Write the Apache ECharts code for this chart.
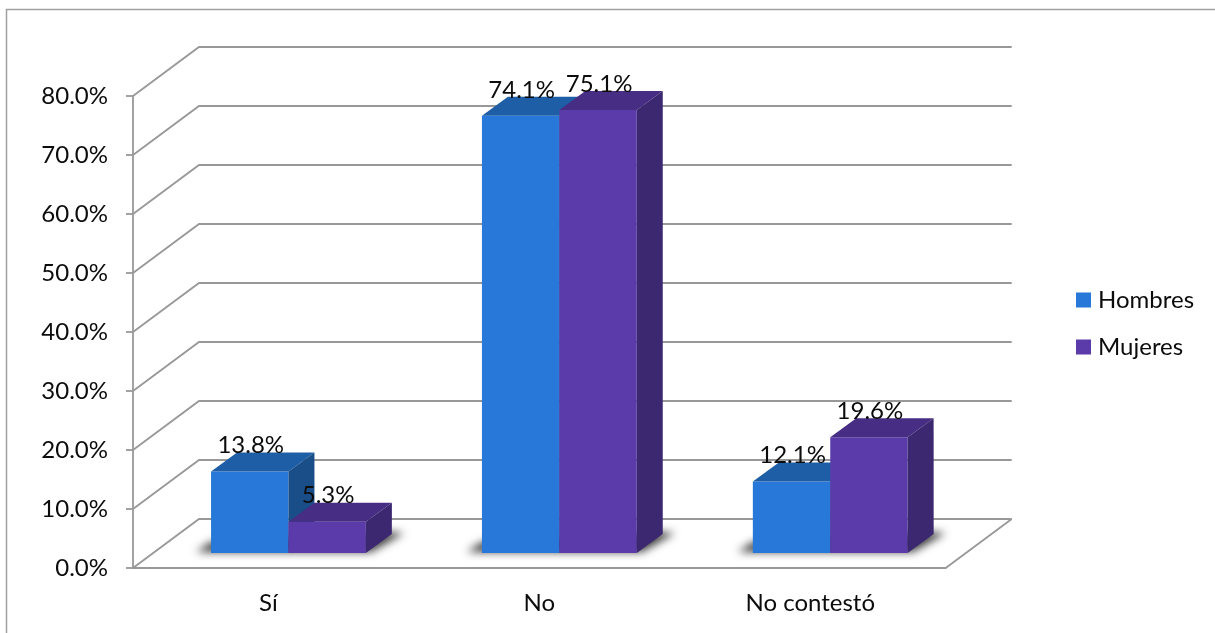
<!DOCTYPE html>
<html>
<head>
<meta charset="utf-8">
<style>html,body{margin:0;padding:0;background:#fff}#c{width:1215px;height:633px}</style>
<script src="https://cdn.jsdelivr.net/npm/echarts@6/dist/echarts.min.js"></script>
</head>
<body>
<div id="c"></div>
<script>
const categories = ['Sí', 'No', 'No contestó'];
const hombres = [13.8, 74.1, 12.1];
const mujeres = [5.3, 75.1, 19.6];
const yTicks = [0, 10, 20, 30, 40, 50, 60, 70, 80];

const FONT = 'Lato';
const FS = 24;
const INK = '#0c0c0c';
const GRID = '#989898';
const GW = 1.8;
const WALL = [66, -49];   // depth of the box
const SHIFT = [20, -15];  // bar position inside the depth
const DEPTH = [26, -19];  // depth of each bar
const BLUE = { front: '#2778d8', top: '#1d5ea6', side: '#1a4e88' };
const PURPLE = { front: '#5a3ba9', top: '#472d84', side: '#3b2870' };
const OFF = 3000;

function poly(pts, fill, extra) {
  return { type: 'polygon', shape: { points: pts }, style: Object.assign({ fill: fill, stroke: null }, extra || {}) };
}
function wallItem(params, api) {
  const v = api.value(0);
  const cs = params.coordSys;
  const p = api.coord([0, v]);
  const x0 = cs.x, x1 = cs.x + cs.width, y = p[1];
  const lineStyle = { stroke: GRID, lineWidth: GW, fill: null };
  const children = [{
    type: 'polyline',
    shape: { points: [[x0, y], [x0 + WALL[0], y + WALL[1]], [x1 + WALL[0], y + WALL[1]]] },
    style: lineStyle
  }];
  if (v === 0) {
    children.push({
      type: 'polyline',
      shape: { points: [[x1, y], [x1 + WALL[0], y + WALL[1]]] },
      style: lineStyle
    });
  }
  return { type: 'group', children: children };
}
function barItem(colors, idx) {
  return function (params, api) {
    const cat = api.value(0), val = api.value(1);
    const band = api.size([1, 0])[0];
    const w = band / 3.5;
    const base = api.coord([cat, 0]);
    const top = api.coord([cat, val]);
    const xl = base[0] + SHIFT[0] - w + idx * w;
    const xr = xl + w;
    const yb = base[1] + SHIFT[1];
    const yt = top[1] + SHIFT[1];
    const dx = DEPTH[0], dy = DEPTH[1];
    const children = [];
    if (idx === 0) {
      // soft floor shadow: only the blurred shadow lands on the canvas
      const l = xl, r = xl + 2 * w;
      children.push(poly(
        [[l - 15 - OFF, yb - 1], [l - OFF, yb - 11], [r + 24 - OFF, yb - 21], [r + 38 - OFF, yb - 20], [r + 5 - OFF, yb - 1]],
        '#000', { shadowBlur: 8, shadowOffsetX: OFF, shadowColor: 'rgba(60,60,60,1)' }));
    }
    children.push(poly([[xl, yt], [xr, yt], [xr, yb], [xl, yb]], colors.front));
    children.push(poly([[xl, yt], [xr, yt], [xr + dx, yt + dy], [xl + dx, yt + dy]], colors.top));
    children.push(poly([[xr, yt], [xr + dx, yt + dy], [xr + dx, yb + dy], [xr, yb]], colors.side));
    children.push({
      type: 'text', z2: 100,
      style: {
        x: xl + w / 2 + 1, y: yt - 26, text: val.toFixed(1) + '%',
        fill: INK, font: FS + 'px ' + FONT, align: 'center', verticalAlign: 'middle'
      }
    });
    return { type: 'group', children: children };
  };
}

const chart = echarts.init(document.getElementById('c'), null, { renderer: 'canvas' });
chart.setOption({
  animation: false,
  backgroundColor: '#fff',
  graphic: [{
    type: 'polyline', silent: true, z: -10,
    shape: { points: [[6.5, 640], [6.5, 9.5], [1220, 9.5]] },
    style: { stroke: '#a0a0a0', lineWidth: 1.5, fill: null }
  }],
  grid: { left: 133, top: 96, width: 812.7, height: 472, containLabel: false },
  legend: {
    orient: 'vertical', left: 1071, top: 283, itemWidth: 15, itemHeight: 15, itemGap: 23,
    icon: 'rect',
    data: ['Hombres', 'Mujeres'],
    textStyle: { fontFamily: FONT, fontSize: FS, color: INK, padding: [0, 0, 0, 2] }
  },
  xAxis: {
    type: 'category', data: categories,
    axisLine: { show: true, lineStyle: { color: GRID, width: GW } },
    axisTick: { show: false },
    axisLabel: { margin: 23, fontFamily: FONT, fontSize: FS, color: INK },
    splitLine: { show: false }
  },
  yAxis: {
    type: 'value', min: 0, max: 80, interval: 10,
    axisLine: { show: true, lineStyle: { color: GRID, width: GW } },
    axisTick: { show: true, length: 7, lineStyle: { color: GRID, width: GW } },
    axisLabel: { margin: 25, fontFamily: FONT, fontSize: FS, color: INK, formatter: v => v.toFixed(1) + '%' },
    splitLine: { show: false }
  },
  series: [
    { type: 'custom', name: 'walls', z: 1, silent: true, clip: false, renderItem: wallItem,
      data: yTicks.map(v => [v]), encode: { y: 0 } },
    { type: 'custom', name: 'Hombres', z: 2, clip: false, itemStyle: { color: BLUE.front },
      renderItem: barItem(BLUE, 0), encode: { x: 0, y: 1 },
      data: categories.map((c, i) => [i, hombres[i]]) },
    { type: 'custom', name: 'Mujeres', z: 2, clip: false, itemStyle: { color: PURPLE.front },
      renderItem: barItem(PURPLE, 1), encode: { x: 0, y: 1 },
      data: categories.map((c, i) => [i, mujeres[i]]) }
  ]
});
</script>
</body>
</html>
